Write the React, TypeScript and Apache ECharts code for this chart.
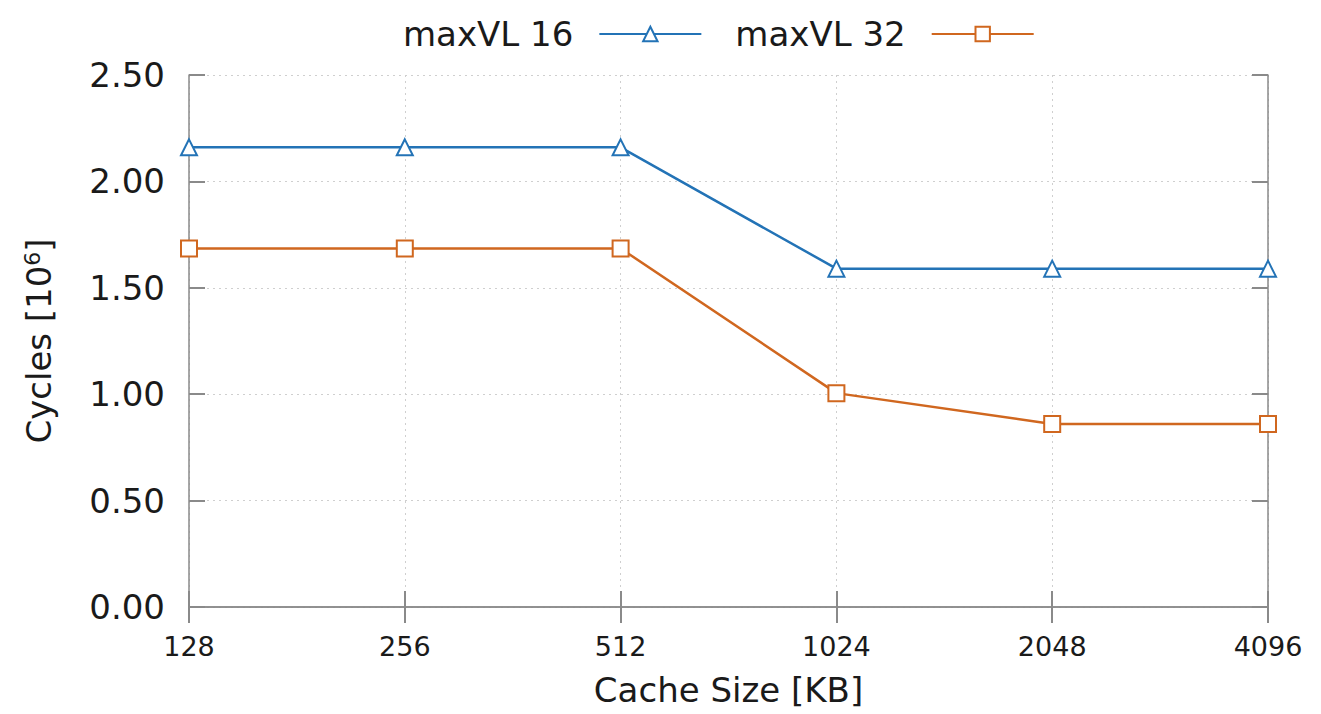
import React, { useEffect, useRef } from "react";
import * as echarts from "echarts";

const categories = ["128", "256", "512", "1024", "2048", "4096"];
const maxVL16 = [2.16, 2.16, 2.16, 1.59, 1.59, 1.59];
const maxVL32 = [1.685, 1.685, 1.685, 1.005, 0.86, 0.86];
const seriesNames = ["maxVL 16", "maxVL 32"];

const FONT = "DejaVu Sans";
const AXIS_GRAY = "#8a8a8a";
const BLUE = "#2373b6";
const ORANGE = "#d0671f";

export default function App() {
  const ref = useRef<HTMLDivElement>(null);
  useEffect(() => {
    document.body.style.margin = "0";
    const chart = echarts.init(ref.current!, null, { renderer: "svg" });
    const tickStyle = { show: true, inside: true, length: 16, lineStyle: { color: AXIS_GRAY, width: 2 } };
    const axisLine = { show: true, lineStyle: { color: AXIS_GRAY, width: 1.5 } };
    chart.setOption({
      animation: false,
      textStyle: { fontFamily: FONT },
      legend: {
        left: 398,
        top: 12,
        align: "right",
        itemWidth: 102,
        itemHeight: 18,
        itemGap: 33,
        textStyle: { fontSize: 34, color: "#1a1a1a", fontFamily: FONT, padding: [0, 21, 0, 0] },
        data: seriesNames,
      },
      grid: { left: 189, right: 53, top: 75, bottom: 107, containLabel: false },
      xAxis: [
        {
          type: "category",
          data: categories,
          boundaryGap: false,
          axisLine,
          axisTick: { ...tickStyle, alignWithLabel: true },
          axisLabel: { fontSize: 27, color: "#1a1a1a", margin: 26, fontFamily: FONT },
          splitLine: { show: true, lineStyle: { color: "#cfcfcf", type: [2, 4], width: 1 } },
          name: "Cache Size [KB]",
          nameLocation: "middle",
          nameGap: 66,
          nameTextStyle: { fontSize: 34, color: "#1a1a1a", fontFamily: FONT },
        },
        {
          type: "category",
          data: categories,
          boundaryGap: false,
          position: "top",
          axisLine,
          axisTick: tickStyle,
          axisLabel: { show: false },
          splitLine: { show: false },
        },
      ],
      yAxis: [
        {
          type: "value",
          min: 0,
          max: 2.5,
          interval: 0.5,
          axisLine,
          axisTick: tickStyle,
          axisLabel: {
            fontSize: 34,
            color: "#1a1a1a",
            margin: 24,
            fontFamily: FONT,
            formatter: (v: number) => v.toFixed(2),
          },
          splitLine: { show: true, lineStyle: { color: "#cfcfcf", type: [2, 4], width: 1 } },
          name: "Cycles [10{sup|6}]",
          nameLocation: "middle",
          nameGap: 132,
          nameTextStyle: {
            fontSize: 34,
            color: "#1a1a1a",
            fontFamily: FONT,
            rich: { sup: { fontSize: 22, verticalAlign: "top", padding: [0, 0, 14, 0], color: "#1a1a1a", fontFamily: FONT } },
          },
        },
        {
          type: "value",
          min: 0,
          max: 2.5,
          interval: 0.5,
          position: "right",
          axisLine,
          axisTick: tickStyle,
          axisLabel: { show: false },
          splitLine: { show: false },
        },
      ],
      series: [
        {
          name: seriesNames[0],
          type: "line",
          data: maxVL16,
          symbol: "emptyTriangle",
          symbolSize: 16,
          color: BLUE,
          lineStyle: { width: 2.5, color: BLUE },
          itemStyle: { borderWidth: 2.5, color: BLUE, borderColor: BLUE },
        },
        {
          name: seriesNames[1],
          type: "line",
          data: maxVL32,
          symbol: "emptyRect",
          symbolSize: 16,
          color: ORANGE,
          lineStyle: { width: 2.5, color: ORANGE },
          itemStyle: { borderWidth: 2.5, color: ORANGE, borderColor: ORANGE },
        },
      ],
    });
    return () => chart.dispose();
  }, []);
  return <div ref={ref} style={{ width: 1321, height: 714 }} />;
}
